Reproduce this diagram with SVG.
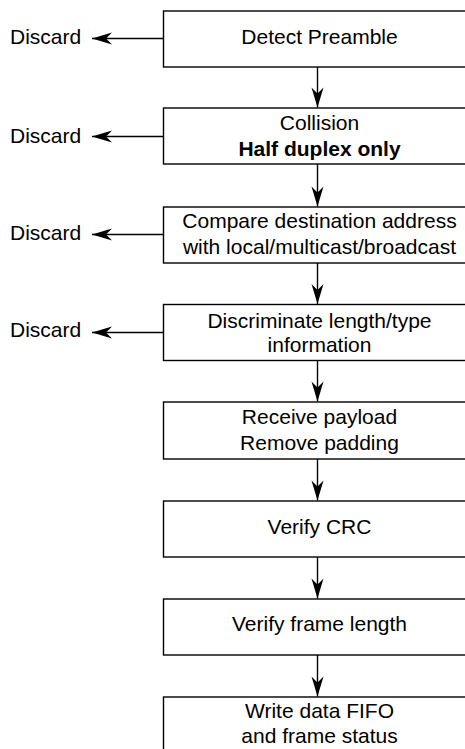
<svg xmlns="http://www.w3.org/2000/svg" width="465" height="749" viewBox="0 0 465 749">
<defs>
<marker id="ah" markerUnits="userSpaceOnUse" viewBox="-21 -7 22 14" refX="0" refY="0" markerWidth="22" markerHeight="14" orient="auto">
<path d="M-20,-6 L0,0 L-20,6 L-14,0 z" fill="#000"/>
</marker>
<style>
.box{fill:#fff;stroke:#000;stroke-width:1.4}
.t{font-family:"Liberation Sans",Arial,sans-serif;font-size:21px;fill:#000;text-anchor:middle}
.d{font-family:"Liberation Sans",Arial,sans-serif;font-size:21px;fill:#000}
.b{font-weight:bold}
.c{stroke:#000;stroke-width:1.4;fill:none;marker-end:url(#ah)}
</style>
</defs>
<rect width="465" height="749" fill="#fff"/>
<g id="connectors">
<line class="c" x1="163.5" y1="38.5" x2="92" y2="38.5"/>
<line class="c" x1="163.5" y1="136.5" x2="92" y2="136.5"/>
<line class="c" x1="163.5" y1="234.5" x2="92" y2="234.5"/>
<line class="c" x1="163.5" y1="332.5" x2="92" y2="332.5"/>
<line class="c" x1="317.5" y1="67" x2="317.5" y2="107.5"/>
<line class="c" x1="317.5" y1="164" x2="317.5" y2="206.5"/>
<line class="c" x1="317.5" y1="263" x2="317.5" y2="304"/>
<line class="c" x1="317.5" y1="360.5" x2="317.5" y2="401.5"/>
<line class="c" x1="317.5" y1="459" x2="317.5" y2="500.5"/>
<line class="c" x1="317.5" y1="557" x2="317.5" y2="598.5"/>
<line class="c" x1="317.5" y1="655" x2="317.5" y2="696.5"/>
</g>
<g id="discard1"><text class="d" x="10" y="44">Discard</text></g>
<g id="discard2"><text class="d" x="10" y="143">Discard</text></g>
<g id="discard3"><text class="d" x="10" y="239.5">Discard</text></g>
<g id="discard4"><text class="d" x="10" y="337">Discard</text></g>
<g id="n1"><rect class="box" x="163.5" y="11" width="310" height="56"/><text class="t" x="319.5" y="44">Detect Preamble</text></g>
<g id="n2"><rect class="box" x="163.5" y="108" width="310" height="56"/><text class="t" x="319.5" y="130">Collision</text><text class="t b" x="319.5" y="155.5">Half duplex only</text></g>
<g id="n3"><rect class="box" x="163.5" y="207" width="310" height="56"/><text class="t" x="319.5" y="227.5">Compare destination address</text><text class="t" x="319.5" y="253.5">with local/multicast/broadcast</text></g>
<g id="n4"><rect class="box" x="163.5" y="304.5" width="310" height="56"/><text class="t" x="319.5" y="327.5">Discriminate length/type</text><text class="t" x="319.5" y="352">information</text></g>
<g id="n5"><rect class="box" x="163.5" y="402" width="310" height="57"/><text class="t" x="319.5" y="424">Receive payload</text><text class="t" x="319.5" y="450">Remove padding</text></g>
<g id="n6"><rect class="box" x="163.5" y="501" width="310" height="56"/><text class="t" x="319.5" y="533.5">Verify CRC</text></g>
<g id="n7"><rect class="box" x="163.5" y="599" width="310" height="56"/><text class="t" x="319.5" y="631">Verify frame length</text></g>
<g id="n8"><rect class="box" x="163.5" y="697" width="310" height="60"/><text class="t" x="319.5" y="718">Write data FIFO</text><text class="t" x="319.5" y="743">and frame status</text></g>
</svg>
